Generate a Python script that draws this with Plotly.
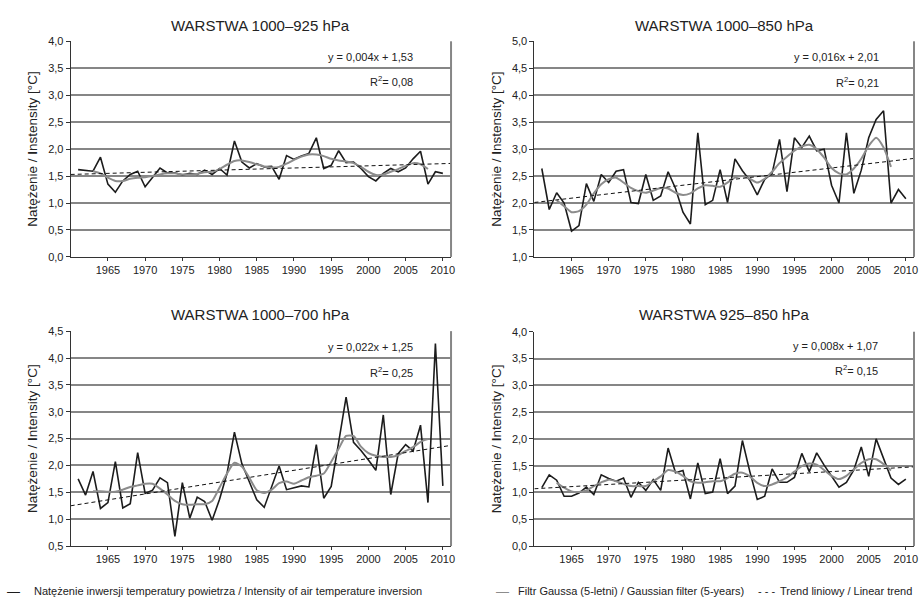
import plotly.graph_objects as go

# ---------------- data ----------------
years = list(range(1961, 2011))
filter_years = list(range(1963, 2009))

titles = ["WARSTWA 1000–925 hPa", "WARSTWA 1000–850 hPa",
          "WARSTWA 1000–700 hPa", "WARSTWA 925–850 hPa"]
y_titles = ["Natężenie / <b>I</b>nstensity [°C]", "Natężenie / <b>I</b>nstensity [°C]",
            "Natężenie / <b>I</b>ntensity [°C]", "Natężenie / <b>I</b>ntensity [°C]"]
equations = ["y = 0,004x + 1,53", "y = 0,016x + 2,01",
             "y = 0,022x + 1,25", "y = 0,008x + 1,07"]
r2_labels = ["R<sup>2</sup>= 0,08", "R<sup>2</sup>= 0,21",
             "R<sup>2</sup>= 0,25", "R<sup>2</sup>= 0,15"]
trend_slope = [0.004, 0.016, 0.022, 0.008]
trend_intercept = [1.53, 2.01, 1.25, 1.07]
trend_base_year = 1960
y_ranges = [[0, 4], [1, 5], [0.5, 4.5], [0, 4]]
x_range = [1960, 2011.1]
x_tick_vals = [1965, 1970, 1975, 1980, 1985, 1990, 1995, 2000, 2005, 2010]

inv_1000_925 = [1.62, 1.61, 1.59, 1.85, 1.35, 1.20, 1.41, 1.53, 1.59, 1.30,
                1.47, 1.65, 1.56, 1.56, 1.52, 1.55, 1.53, 1.61, 1.53, 1.64,
                1.52, 2.15, 1.76, 1.65, 1.73, 1.67, 1.68, 1.44, 1.88, 1.81,
                1.87, 1.92, 2.21, 1.64, 1.70, 1.97, 1.75, 1.76, 1.64, 1.49,
                1.41, 1.55, 1.64, 1.58, 1.65, 1.82, 1.96, 1.35, 1.58, 1.55]
gauss_1000_925 = [1.59, 1.55, 1.47, 1.41, 1.41, 1.45, 1.47, 1.48, 1.50, 1.53,
                  1.55, 1.55, 1.53, 1.53, 1.54, 1.57, 1.58, 1.63, 1.71, 1.78,
                  1.79, 1.76, 1.72, 1.68, 1.66, 1.67, 1.73, 1.80, 1.86, 1.90,
                  1.90, 1.87, 1.82, 1.79, 1.77, 1.74, 1.67, 1.58, 1.52, 1.53,
                  1.58, 1.63, 1.69, 1.74, 1.72, 1.63]

inv_1000_850 = [2.64, 1.88, 2.19, 2.00, 1.48, 1.58, 2.36, 2.03, 2.53, 2.38,
                2.59, 2.62, 2.01, 1.99, 2.53, 2.05, 2.13, 2.58, 2.27, 1.83,
                1.61, 3.30, 1.97, 2.05, 2.62, 2.01, 2.82, 2.60, 2.42, 2.15,
                2.44, 2.55, 3.18, 2.21, 3.21, 3.03, 3.24, 2.97, 3.00, 2.33,
                2.00, 3.30, 2.18, 2.61, 3.21, 3.55, 3.71, 2.00, 2.25, 2.08]
gauss_1000_850 = [2.05, 1.94, 1.83, 1.85, 1.97, 2.18, 2.35, 2.44, 2.47, 2.38,
                  2.28, 2.22, 2.19, 2.23, 2.28, 2.27, 2.19, 2.15, 2.18, 2.27,
                  2.33, 2.32, 2.30, 2.38, 2.47, 2.50, 2.45, 2.38, 2.45, 2.58,
                  2.74, 2.86, 2.97, 3.05, 3.08, 3.00, 2.84, 2.65, 2.55, 2.53,
                  2.64, 2.82, 3.06, 3.21, 3.03, 2.67]

inv_1000_700 = [1.75, 1.45, 1.89, 1.20, 1.31, 2.07, 1.21, 1.29, 2.24, 1.48,
                1.54, 1.77, 1.68, 0.68, 1.68, 1.02, 1.41, 1.33, 0.98, 1.37,
                1.85, 2.62, 2.03, 1.69, 1.36, 1.22, 1.61, 1.99, 1.55, 1.59,
                1.62, 1.60, 2.39, 1.39, 1.61, 2.43, 3.27, 2.43, 2.28, 2.10,
                1.91, 2.94, 1.46, 2.22, 2.39, 2.27, 2.75, 1.31, 4.27, 1.62]
gauss_1000_700 = [1.52, 1.52, 1.51, 1.51, 1.55, 1.60, 1.63, 1.66, 1.66, 1.57,
                  1.46, 1.34, 1.28, 1.27, 1.28, 1.28, 1.34, 1.59, 1.85, 2.05,
                  1.98, 1.77, 1.54, 1.49, 1.55, 1.67, 1.70, 1.66, 1.72, 1.78,
                  1.81, 1.85, 2.07, 2.31, 2.55, 2.55, 2.35, 2.23, 2.18, 2.16,
                  2.16, 2.19, 2.27, 2.34, 2.44, 2.49]

inv_925_850 = [1.09, 1.33, 1.23, 0.93, 0.93, 0.99, 1.10, 0.96, 1.33, 1.26,
               1.21, 1.27, 0.91, 1.19, 1.04, 1.24, 1.04, 1.83, 1.37, 1.41,
               0.88, 1.55, 0.98, 1.01, 1.63, 0.98, 1.12, 1.97, 1.39, 0.87,
               0.93, 1.44, 1.19, 1.19, 1.28, 1.73, 1.39, 1.74, 1.51, 1.31,
               1.10, 1.19, 1.42, 1.85, 1.30, 2.00, 1.62, 1.27, 1.15, 1.25]
gauss_925_850 = [1.18, 1.09, 1.02, 1.01, 1.04, 1.12, 1.19, 1.24, 1.21, 1.16,
                 1.12, 1.12, 1.12, 1.21, 1.30, 1.42, 1.39, 1.31, 1.21, 1.18,
                 1.19, 1.21, 1.21, 1.27, 1.35, 1.37, 1.30, 1.18, 1.12, 1.15,
                 1.21, 1.28, 1.39, 1.49, 1.54, 1.52, 1.42, 1.31, 1.25, 1.31,
                 1.43, 1.55, 1.62, 1.62, 1.53, 1.41]

inversion_series = [inv_1000_925, inv_1000_850, inv_1000_700, inv_925_850]
gauss_series = [gauss_1000_925, gauss_1000_850, gauss_1000_700, gauss_925_850]

legend_names = ["Natężenie inwersji temperatury powietrza / Intensity of air temperature inversion",
                "Filtr Gaussa (5-letni) / Gaussian filter (5-years)",
                "Trend liniowy / Linear trend"]
legend_symbols = ["—", "—", "- - -"]

# ---------------- layout geometry (pixels of a 923x606 page) ----------------
W, H = 923, 606
px_x = [(71, 453), (536.7, 918), (71, 453), (536.7, 918)]
px_y = [(36, 256), (36, 256), (331.7, 551), (332.3, 551)]
eq_x = [0.906, 0.913, 0.906, 0.911]
eq_y = [0.927, 0.929, 0.924, 0.934]
r2_y = [0.814, 0.812, 0.810, 0.820]
title_shift = [15.3, 15.3, 16.7, 17.3]

FONT = "Liberation Sans, Arial, sans-serif"
TEXT = "#222222"
BLACK = "#1c1c1c"
GRAY = "#8c8c8c"
GRID = "#868686"

fig = go.Figure()
layout = dict(
    width=W, height=H, margin=dict(l=0, r=0, t=0, b=0),
    paper_bgcolor="white", plot_bgcolor="white",
    separators=",.", showlegend=False,
    font=dict(family=FONT, size=11, color=TEXT),
    annotations=[], shapes=[],
)

for i in range(4):
    sfx = "" if i == 0 else str(i + 1)
    xa, ya = "x" + sfx, "y" + sfx
    trend_x = list(x_range)
    trend_y = [trend_intercept[i] + trend_slope[i] * (xv - trend_base_year) for xv in trend_x]

    fig.add_trace(go.Scatter(x=years, y=inversion_series[i], mode="lines",
                             line=dict(color=BLACK, width=1.6),
                             name=legend_names[0], xaxis=xa, yaxis=ya))
    fig.add_trace(go.Scatter(x=filter_years, y=gauss_series[i], mode="lines",
                             line=dict(color=GRAY, width=2, shape="spline", smoothing=0.6),
                             name=legend_names[1], xaxis=xa, yaxis=ya))
    fig.add_trace(go.Scatter(x=trend_x, y=trend_y, mode="lines",
                             line=dict(color="#111111", width=1, dash="4px,3px"),
                             name=legend_names[2], xaxis=xa, yaxis=ya))

    layout["xaxis" + sfx] = dict(
        domain=[px_x[i][0] / W, px_x[i][1] / W], anchor=ya,
        range=x_range, tickvals=x_tick_vals, ticks="outside", ticklen=3,
        tickcolor="#333333", showline=True, linecolor="#333333", linewidth=1,
        showgrid=False, zeroline=False, tickfont=dict(size=11, color=TEXT),
        fixedrange=True,
    )
    layout["yaxis" + sfx] = dict(
        domain=[1 - px_y[i][1] / H, 1 - px_y[i][0] / H], anchor=xa,
        range=y_ranges[i], dtick=0.5, tick0=0, tickformat=".1f",
        ticks="outside", ticklen=4, tickcolor="#333333",
        showline=True, linecolor="#333333", linewidth=1,
        showgrid=True, gridcolor=GRID, gridwidth=2, zeroline=False,
        tickfont=dict(size=11, color=TEXT),
        title=dict(text=y_titles[i], font=dict(size=13.5, color=TEXT), standoff=7),
        fixedrange=True,
    )
    layout["annotations"] += [
        dict(text=titles[i], xref=xa + " domain", yref=ya + " domain", x=0.5, y=1,
             yshift=title_shift[i], xanchor="center", yanchor="middle", showarrow=False,
             font=dict(size=15, color=TEXT)),
        dict(text=equations[i], xref=xa + " domain", yref=ya + " domain", x=eq_x[i], y=eq_y[i],
             xanchor="right", yanchor="middle", showarrow=False, font=dict(size=11, color=TEXT)),
        dict(text=r2_labels[i], xref=xa + " domain", yref=ya + " domain", x=eq_x[i], y=r2_y[i],
             xanchor="right", yanchor="middle", showarrow=False, font=dict(size=11, color=TEXT)),
    ]
    layout["shapes"].append(dict(type="line", xref=xa + " domain", yref=ya + " domain",
                                 x0=1, x1=1, y0=0, y1=1, line=dict(color=GRID, width=2)))

# ---------------- legend row (symbol glyph + label) ----------------
leg_y = 1 - 597 / H
leg_font = 11
leg_items = [
    # (symbol x px, symbol colour, label x px, label anchor)
    (5, BLACK, 32, "left"),
    (496, GRAY, 518, "left"),
    (759, BLACK, 918, "right"),
]
for k, (sx, scol, lx, lanchor) in enumerate(leg_items):
    layout["annotations"].append(dict(
        text=legend_symbols[k], xref="paper", yref="paper", x=sx / W, y=leg_y,
        xanchor="left", yanchor="middle", showarrow=False,
        font=dict(size=13 if k < 2 else 11, color=scol)))
    layout["annotations"].append(dict(
        text=legend_names[k], xref="paper", yref="paper", x=lx / W, y=leg_y,
        xanchor=lanchor, yanchor="middle", showarrow=False,
        font=dict(size=leg_font, color=TEXT)))

fig.update_layout(**layout)
fig.write_html("out.html")
